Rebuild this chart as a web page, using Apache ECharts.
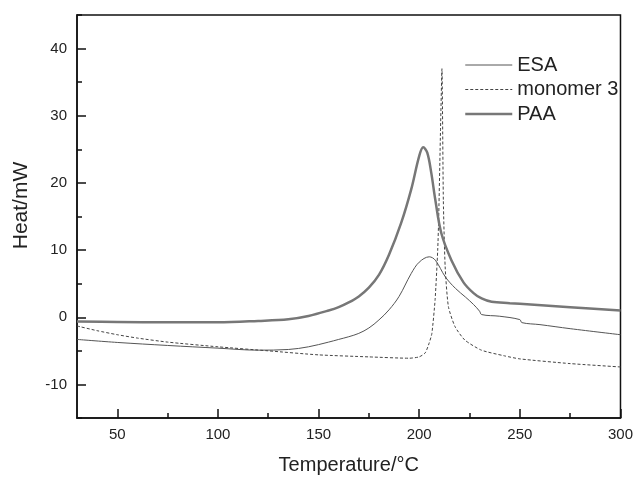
<!DOCTYPE html>
<html>
<head>
<meta charset="utf-8">
<script src="https://cdn.jsdelivr.net/npm/echarts@6/dist/echarts.min.js"></script>
<style>html,body{margin:0;padding:0;background:#fff}#c{width:636px;height:481px}</style>
</head>
<body>
<div id="c"></div>
<script>
const seriesNames = ['ESA', 'monomer 3', 'PAA'];
const xMajorTicks = [50, 100, 150, 200, 250, 300];
const xMinorTicks = [75, 125, 175, 225, 275];
const yMajorTicks = [-10, 0, 10, 20, 30, 40];
const yMinorTicks = [-15, -5, 5, 15, 25, 35, 45];

const esaT = [30, 50, 75, 100, 120, 135, 145, 155, 160, 165, 170, 175, 180, 185, 190, 196, 200, 205, 208, 213, 218, 223, 227, 230, 231, 240, 250, 251, 260, 275, 300];
const esaV = [-3.3, -3.75, -4.2, -4.6, -4.9, -4.8, -4.4, -3.7, -3.3, -2.9, -2.4, -1.6, -0.4, 1.1, 3.1, 6.5, 8.2, 9.0, 8.5, 6.0, 4.3, 3.0, 1.9, 0.9, 0.4, 0.15, -0.35, -0.8, -1.1, -1.7, -2.6];

const monoT = [30, 40, 50, 60, 75, 100, 125, 150, 175, 195, 200, 203, 205, 206.3, 207.9, 209.2, 209.7, 210.6, 211.3, 212, 212.9, 214.5, 217.8, 222.7, 230.9, 242.4, 250, 275, 300];
const monoV = [-1.3, -2.0, -2.6, -3.1, -3.7, -4.4, -5.0, -5.6, -5.9, -6.1, -5.9, -5.3, -3.8, -2.4, 2.6, 10, 15, 28, 37, 17.4, 7.5, 1.6, -1.4, -3.4, -4.9, -5.75, -6.2, -6.9, -7.4];

const paaT = [30, 50, 75, 100, 120, 135, 145, 155, 160, 165, 170, 175, 180, 185, 191, 196, 200, 202, 204, 206, 208, 211, 216, 222, 227, 231, 236, 245, 250, 275, 300];
const paaV = [-0.65, -0.7, -0.75, -0.75, -0.55, -0.3, 0.2, 1.0, 1.5, 2.2, 3.1, 4.4, 6.3, 9.3, 14.0, 19.0, 24.0, 25.3, 24.5, 21.5, 17.5, 12.5, 8.5, 5.2, 3.6, 2.8, 2.3, 2.1, 2.0, 1.5, 1.0];

const zip = (a, b) => a.map((t, i) => [t, b[i]]);
const FONT = 'Liberation Sans, Arial, sans-serif';
const styles = {
  'ESA': {color: '#555', width: 1, type: 'solid'},
  'monomer 3': {color: '#444', width: 1, type: [3, 2]},
  'PAA': {color: '#777', width: 2.5, type: 'solid'}
};

const chart = echarts.init(document.getElementById('c'), null, {renderer: 'canvas'});
chart.setOption({
  animation: false,
  backgroundColor: '#fff',
  grid: {left: 77, right: 14, top: 15, bottom: 63, show: true, borderColor: '#111', borderWidth: 1.5, backgroundColor: 'transparent'},
  legend: {
    data: seriesNames.map(n => ({name: n, lineStyle: styles[n]})),
    orient: 'vertical', left: 459, top: 50,
    itemWidth: 47, itemHeight: 20, itemGap: 4.5,
    itemStyle: {opacity: 0},
    textStyle: {fontFamily: FONT, fontSize: 20, color: '#222', lineHeight: 20}
  },
  xAxis: [{
    type: 'value', min: 30, max: 300, position: 'bottom',
    name: 'Temperature/°C', nameLocation: 'middle', nameGap: 37,
    nameTextStyle: {fontFamily: FONT, fontSize: 20, color: '#222'},
    axisLine: {show: true, onZero: false, lineStyle: {color: '#111', width: 1.5}},
    axisTick: {show: true, inside: true, length: 9, customValues: xMajorTicks, lineStyle: {color: '#111', width: 1.5}},
    axisLabel: {customValues: xMajorTicks, fontFamily: FONT, fontSize: 15, color: '#222', margin: 9},
    splitLine: {show: false}
  }, {
    type: 'value', min: 30, max: 300, position: 'bottom',
    axisLine: {show: false, onZero: false},
    axisTick: {show: true, inside: true, length: 5, customValues: xMinorTicks, lineStyle: {color: '#111', width: 1.5}},
    axisLabel: {show: false},
    splitLine: {show: false}
  }],
  yAxis: [{
    type: 'value', min: -15, max: 45, position: 'left',
    name: 'Heat/mW', nameLocation: 'middle', nameGap: 45,
    nameTextStyle: {fontFamily: FONT, fontSize: 21, color: '#222', padding: [0, 0, 0, 22]},
    axisLine: {show: true, onZero: false, lineStyle: {color: '#111', width: 1.5}},
    axisTick: {show: true, inside: true, length: 9, customValues: yMajorTicks, lineStyle: {color: '#111', width: 1.5}},
    axisLabel: {customValues: yMajorTicks, fontFamily: FONT, fontSize: 15, color: '#222', margin: 10},
    splitLine: {show: false}
  }, {
    type: 'value', min: -15, max: 45, position: 'left',
    axisLine: {show: false, onZero: false},
    axisTick: {show: true, inside: true, length: 5, customValues: yMinorTicks, lineStyle: {color: '#111', width: 1.5}},
    axisLabel: {show: false},
    splitLine: {show: false}
  }],
  series: [{
    name: seriesNames[0], type: 'line', xAxisIndex: 0, yAxisIndex: 0,
    data: zip(esaT, esaV), showSymbol: false, symbol: 'none',
    smooth: 0.35,
    lineStyle: styles['ESA'], itemStyle: {color: styles['ESA'].color}
  }, {
    name: seriesNames[1], type: 'line', xAxisIndex: 0, yAxisIndex: 0,
    data: zip(monoT, monoV), showSymbol: false, symbol: 'none',
    smooth: 0.2,
    lineStyle: styles['monomer 3'], itemStyle: {color: styles['monomer 3'].color}
  }, {
    name: seriesNames[2], type: 'line', xAxisIndex: 0, yAxisIndex: 0,
    data: zip(paaT, paaV), showSymbol: false, symbol: 'none',
    smooth: 0.35,
    lineStyle: styles['PAA'], itemStyle: {color: styles['PAA'].color}
  }]
});
</script>
</body>
</html>
